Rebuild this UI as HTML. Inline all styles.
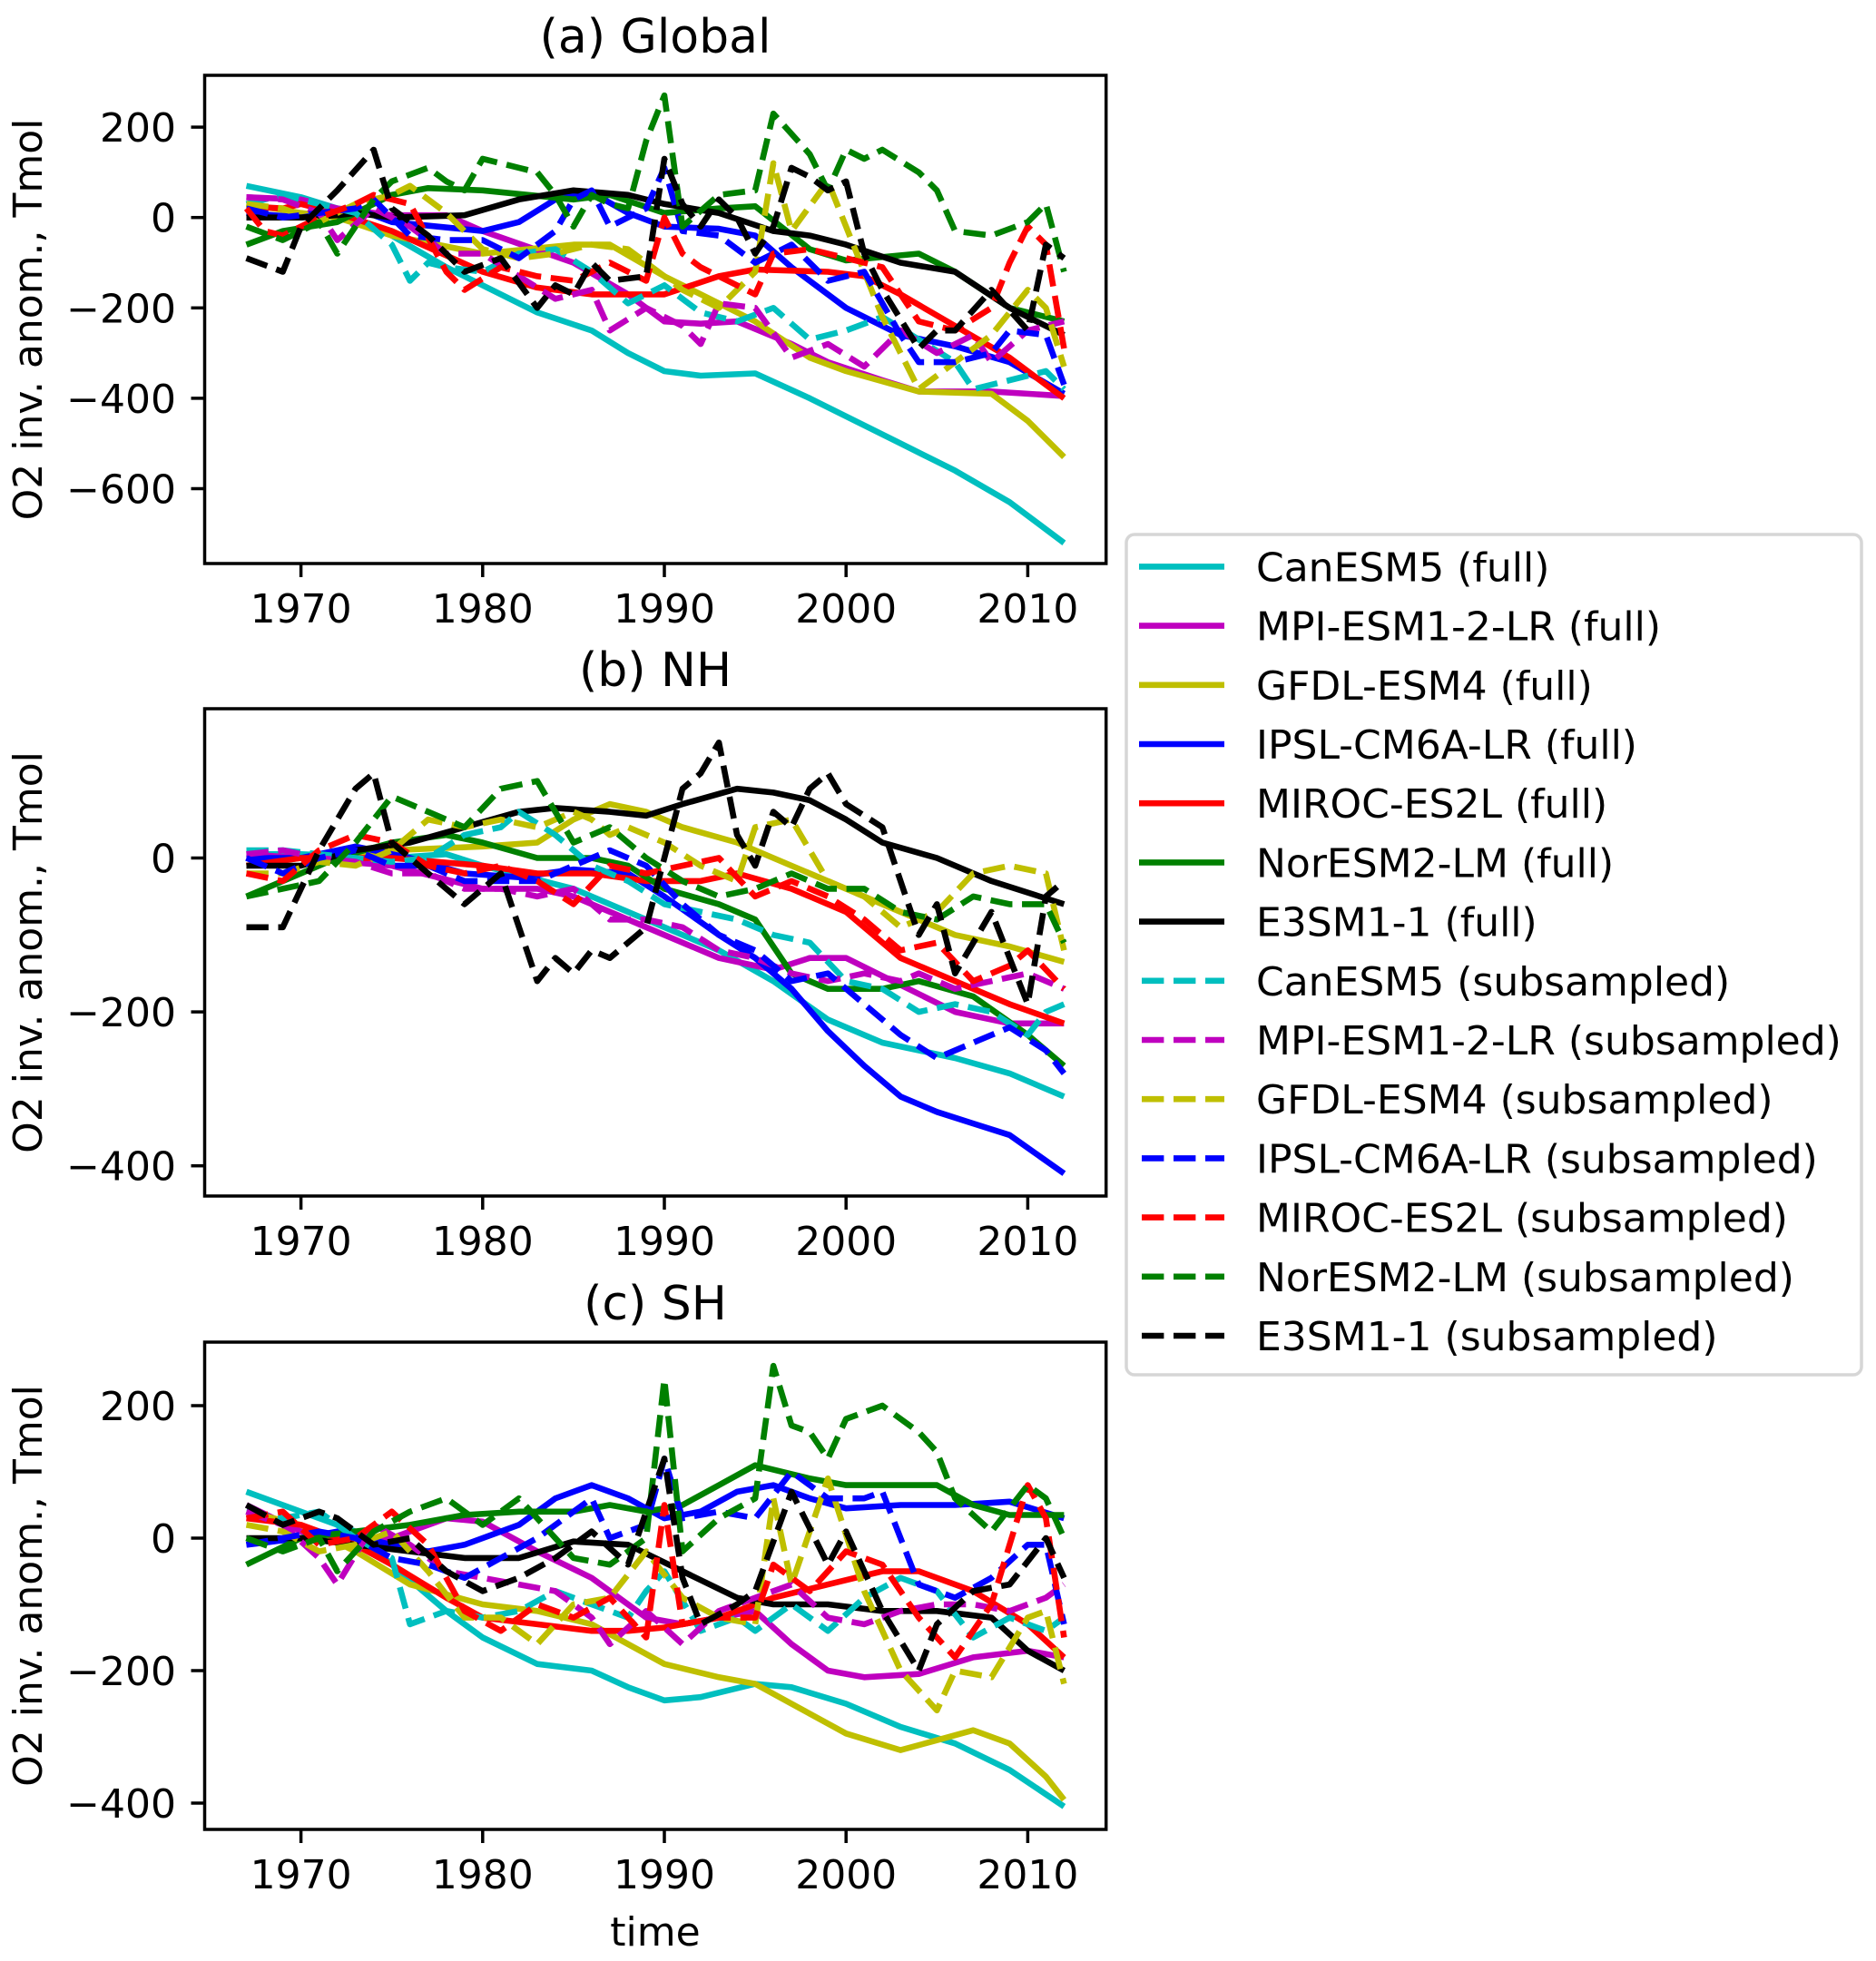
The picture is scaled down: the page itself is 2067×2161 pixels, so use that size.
<!DOCTYPE html>
<html><head><meta charset="utf-8"><style>
html,body{margin:0;padding:0;background:#fff}
svg{display:block;font-family:"DejaVu Sans","Liberation Sans",sans-serif}
</style></head><body>
<svg id="fig" width="2067" height="2161" viewBox="0 0 2067 2161" xmlns="http://www.w3.org/2000/svg"></svg>
<script>
// ---------- Data ([year, value] in Tmol) ----------
const seriesNames = ["CanESM5","MPI-ESM1-2-LR","GFDL-ESM4","IPSL-CM6A-LR","MIROC-ES2L","NorESM2-LM","E3SM1-1"];
const seriesColors = ["#00bfbf","#bf00bf","#bfbf00","#0000ff","#ff0000","#008000","#000000"];
const xTicks = [1970,1980,1990,2000,2010];
const yTicksA = [200,0,-200,-400,-600];
const yTicksB = [0,-200,-400];
const yTicksC = [200,0,-200,-400];

const aFull = [
 [[1967,70],[1970,45],[1972,20],[1975,-40],[1978,-110],[1980,-150],[1983,-210],[1986,-250],[1988,-300],[1990,-340],[1992,-350],[1995,-345],[1998,-400],[2000,-440],[2003,-500],[2006,-560],[2009,-630],[2012,-720]],
 [[1967,45],[1970,40],[1972,20],[1975,5],[1978,5],[1980,-30],[1985,-100],[1988,-170],[1990,-230],[1992,-235],[1994,-230],[1997,-280],[1999,-320],[2002,-360],[2004,-385],[2008,-385],[2012,-395]],
 [[1967,30],[1970,10],[1972,0],[1975,-40],[1980,-80],[1985,-60],[1987,-60],[1990,-130],[1993,-190],[1995,-230],[1998,-310],[2000,-340],[2004,-385],[2008,-390],[2010,-450],[2012,-530]],
 [[1967,10],[1970,0],[1973,20],[1975,-10],[1980,-30],[1982,-10],[1984,40],[1986,55],[1988,10],[1990,-20],[1993,-25],[1995,-40],[1997,-110],[2000,-200],[2003,-260],[2006,-285],[2009,-320],[2012,-390]],
 [[1967,25],[1969,20],[1970,30],[1972,10],[1975,-30],[1980,-120],[1983,-155],[1986,-170],[1990,-170],[1993,-130],[1995,-115],[1999,-120],[2001,-130],[2003,-170],[2006,-240],[2009,-310],[2012,-400]],
 [[1967,-60],[1969,-30],[1972,-10],[1975,50],[1977,65],[1980,60],[1985,40],[1987,50],[1990,10],[1993,20],[1995,25],[1998,-70],[2000,-95],[2004,-80],[2006,-120],[2009,-200],[2012,-230]],
 [[1967,0],[1970,0],[1972,5],[1973,10],[1975,0],[1979,5],[1982,40],[1985,60],[1988,50],[1990,30],[1993,10],[1996,-30],[1998,-40],[2000,-60],[2003,-100],[2006,-120],[2009,-200],[2012,-260]]
];
const aSub = [
 [[1967,30],[1969,50],[1971,30],[1973,10],[1975,-60],[1976,-140],[1977,-100],[1978,-110],[1980,-120],[1982,-80],[1984,-70],[1986,-120],[1988,-190],[1990,-150],[1992,-210],[1994,-230],[1996,-200],[1998,-270],[2000,-250],[2002,-220],[2004,-270],[2006,-320],[2007,-380],[2009,-360],[2011,-340],[2012,-380]],
 [[1967,45],[1969,40],[1971,10],[1972,-50],[1974,20],[1976,-20],[1978,-80],[1980,-80],[1982,-130],[1984,-180],[1986,-160],[1987,-250],[1989,-200],[1991,-240],[1992,-280],[1993,-190],[1995,-200],[1997,-310],[1999,-280],[2001,-330],[2003,-250],[2005,-300],[2007,-260],[2008,-320],[2010,-250],[2012,-230]],
 [[1967,30],[1969,20],[1971,-10],[1973,30],[1975,50],[1976,70],[1978,10],[1980,-70],[1982,-90],[1984,-80],[1986,-60],[1988,-70],[1990,-130],[1991,-160],[1993,-200],[1995,-120],[1996,120],[1997,-30],[1999,80],[2000,-20],[2002,-220],[2004,-380],[2006,-320],[2008,-260],[2010,-160],[2011,-200],[2012,-330]],
 [[1967,20],[1969,0],[1971,10],[1973,20],[1974,40],[1976,-40],[1978,-50],[1980,-50],[1982,-90],[1984,-30],[1985,40],[1986,60],[1987,-20],[1989,20],[1990,110],[1991,-30],[1993,-40],[1995,-100],[1997,-60],[1999,-140],[2001,-120],[2003,-260],[2004,-320],[2006,-320],[2008,-300],[2009,-250],[2011,-260],[2012,-370]],
 [[1967,20],[1968,-30],[1969,-40],[1971,0],[1973,30],[1974,50],[1976,30],[1978,-120],[1979,-160],[1981,-110],[1983,-130],[1985,-140],[1987,-100],[1989,-140],[1990,0],[1991,-80],[1992,-110],[1994,-150],[1995,-170],[1996,-80],[1998,-70],[2000,-90],[2002,-110],[2004,-230],[2006,-250],[2008,-200],[2009,-100],[2010,-20],[2011,-60],[2012,-290]],
 [[1967,-20],[1969,-50],[1971,-10],[1972,-80],[1974,40],[1975,80],[1977,110],[1978,80],[1979,60],[1980,130],[1982,110],[1983,100],[1984,50],[1985,-20],[1986,50],[1987,30],[1988,20],[1989,170],[1990,270],[1991,-20],[1993,50],[1995,60],[1996,230],[1998,140],[1999,60],[2000,150],[2001,130],[2002,150],[2004,100],[2005,60],[2006,-30],[2008,-40],[2010,-10],[2011,30],[2012,-120]],
 [[1967,-90],[1969,-120],[1970,-20],[1972,60],[1974,150],[1975,20],[1977,-40],[1979,-120],[1981,-90],[1983,-200],[1984,-150],[1985,-170],[1986,-100],[1987,-140],[1989,-130],[1990,130],[1991,30],[1992,-20],[1993,40],[1994,0],[1995,-80],[1996,-20],[1997,110],[1998,90],[1999,60],[2000,80],[2001,-80],[2002,-160],[2004,-290],[2005,-250],[2006,-250],[2008,-160],[2010,-250],[2011,-60],[2012,-90]]
];
const bFull = [
 [[1967,5],[1970,5],[1975,0],[1978,5],[1980,-10],[1985,-40],[1988,-70],[1990,-90],[1993,-120],[1996,-160],[1999,-210],[2002,-240],[2006,-260],[2009,-280],[2012,-310]],
 [[1967,5],[1970,0],[1975,-10],[1980,-40],[1983,-40],[1985,-50],[1988,-80],[1990,-100],[1993,-130],[1996,-145],[1998,-130],[2000,-130],[2003,-165],[2006,-200],[2009,-215],[2012,-215]],
 [[1967,-10],[1970,0],[1975,10],[1980,15],[1983,20],[1985,50],[1987,70],[1989,60],[1991,40],[1994,20],[1997,-10],[2000,-40],[2003,-70],[2006,-100],[2009,-115],[2012,-135]],
 [[1967,0],[1970,0],[1973,15],[1976,0],[1979,-20],[1982,-25],[1985,-15],[1988,-20],[1990,-50],[1993,-100],[1995,-130],[1997,-170],[1999,-225],[2001,-270],[2003,-310],[2005,-330],[2007,-345],[2009,-360],[2012,-410]],
 [[1967,-10],[1970,0],[1975,0],[1980,-10],[1983,-20],[1986,-20],[1989,-30],[1992,-30],[1994,-20],[1997,-40],[2000,-70],[2003,-130],[2006,-160],[2009,-190],[2012,-215]],
 [[1967,-50],[1969,-30],[1972,0],[1975,20],[1978,30],[1980,20],[1983,0],[1986,0],[1988,-10],[1990,-40],[1993,-60],[1995,-80],[1997,-150],[1999,-170],[2002,-170],[2004,-160],[2007,-180],[2010,-230],[2012,-270]],
 [[1967,-10],[1970,-10],[1973,10],[1976,20],[1979,40],[1982,60],[1984,65],[1987,60],[1989,55],[1991,70],[1994,90],[1996,85],[1998,75],[2000,50],[2002,20],[2005,0],[2008,-30],[2012,-60]]
];
const bSub = [
 [[1967,10],[1969,10],[1971,5],[1973,0],[1975,-5],[1977,0],[1979,30],[1981,40],[1982,60],[1984,30],[1986,-10],[1988,-30],[1990,-60],[1992,-70],[1994,-80],[1996,-100],[1998,-110],[2000,-160],[2002,-170],[2004,-200],[2006,-190],[2008,-200],[2010,-230],[2011,-200],[2012,-190]],
 [[1967,5],[1969,10],[1971,0],[1973,-5],[1975,-20],[1977,-20],[1979,-40],[1981,-40],[1983,-50],[1985,-40],[1987,-80],[1989,-80],[1991,-90],[1993,-120],[1995,-130],[1997,-150],[1999,-160],[2001,-150],[2003,-160],[2004,-150],[2006,-170],[2008,-160],[2010,-150],[2012,-170]],
 [[1967,-20],[1969,-20],[1971,-5],[1973,-10],[1975,10],[1977,50],[1979,40],[1981,50],[1983,40],[1985,60],[1986,50],[1987,30],[1988,40],[1990,20],[1992,-10],[1994,-30],[1995,40],[1997,50],[1999,-30],[2001,-50],[2003,-90],[2005,-70],[2007,-20],[2009,-10],[2011,-20],[2012,-120]],
 [[1967,0],[1969,-20],[1971,0],[1973,10],[1975,-10],[1977,-10],[1979,-30],[1981,-30],[1983,-30],[1985,-10],[1987,10],[1989,-10],[1991,-60],[1993,-100],[1995,-120],[1997,-160],[1999,-150],[2001,-190],[2003,-230],[2005,-260],[2007,-240],[2009,-220],[2011,-250],[2012,-280]],
 [[1967,-20],[1969,-30],[1971,10],[1973,30],[1975,20],[1977,-10],[1979,-20],[1981,-10],[1983,-30],[1985,-60],[1987,-10],[1989,-20],[1991,-10],[1993,0],[1995,-50],[1997,-30],[1999,-50],[2001,-80],[2003,-120],[2005,-110],[2007,-160],[2009,-140],[2010,-120],[2012,-170]],
 [[1967,-50],[1969,-40],[1971,-30],[1973,20],[1975,80],[1977,60],[1979,40],[1981,90],[1983,100],[1985,20],[1987,40],[1989,0],[1991,-30],[1993,-50],[1995,-40],[1997,-20],[1999,-40],[2001,-40],[2003,-70],[2005,-80],[2007,-50],[2009,-60],[2011,-60],[2012,-110]],
 [[1967,-90],[1969,-90],[1971,10],[1973,90],[1974,110],[1975,20],[1977,-20],[1979,-60],[1981,-20],[1983,-160],[1984,-130],[1985,-150],[1986,-120],[1987,-130],[1989,-90],[1990,0],[1991,90],[1992,110],[1993,150],[1994,30],[1995,-10],[1996,60],[1997,40],[1998,90],[1999,110],[2000,70],[2002,40],[2004,-100],[2005,-60],[2006,-150],[2008,-70],[2010,-190],[2011,-50],[2012,-30]]
];
const cFull = [
 [[1967,70],[1970,40],[1973,10],[1975,-40],[1978,-110],[1980,-150],[1983,-190],[1986,-200],[1988,-225],[1990,-245],[1992,-240],[1995,-220],[1997,-225],[2000,-250],[2003,-285],[2006,-310],[2009,-350],[2012,-405]],
 [[1967,50],[1970,10],[1973,-10],[1975,0],[1978,30],[1980,25],[1983,-20],[1986,-60],[1989,-120],[1991,-130],[1993,-120],[1995,-110],[1997,-160],[1999,-200],[2001,-210],[2004,-205],[2007,-180],[2010,-170],[2012,-180]],
 [[1967,40],[1970,20],[1973,-20],[1976,-70],[1980,-100],[1983,-110],[1986,-130],[1988,-160],[1990,-190],[1993,-210],[1995,-220],[1997,-250],[2000,-295],[2003,-320],[2005,-305],[2007,-290],[2009,-310],[2011,-360],[2012,-395]],
 [[1967,-10],[1970,0],[1972,10],[1975,-10],[1977,-20],[1979,-10],[1982,20],[1984,60],[1986,80],[1988,60],[1990,30],[1992,40],[1994,70],[1996,80],[1998,60],[2000,45],[2003,50],[2006,50],[2009,55],[2012,30]],
 [[1967,30],[1970,20],[1973,-10],[1975,-40],[1978,-90],[1980,-120],[1983,-130],[1986,-140],[1988,-140],[1990,-135],[1993,-120],[1996,-90],[1999,-70],[2002,-50],[2004,-50],[2007,-80],[2010,-130],[2012,-180]],
 [[1967,-40],[1970,0],[1973,10],[1976,20],[1979,35],[1982,40],[1985,40],[1987,50],[1989,40],[1991,50],[1993,80],[1995,110],[1998,90],[2000,80],[2003,80],[2005,80],[2007,50],[2009,35],[2012,35]],
 [[1967,0],[1970,0],[1973,-10],[1976,-20],[1979,-30],[1982,-30],[1985,-5],[1988,-10],[1991,-50],[1994,-90],[1996,-100],[1999,-100],[2002,-110],[2005,-110],[2008,-120],[2010,-170],[2012,-200]]
];
const cSub = [
 [[1967,40],[1969,30],[1971,40],[1973,0],[1975,-30],[1976,-130],[1978,-110],[1980,-120],[1982,-110],[1984,-80],[1986,-100],[1988,-120],[1989,-80],[1990,-50],[1992,-140],[1994,-120],[1995,-140],[1997,-100],[1999,-140],[2001,-90],[2003,-60],[2005,-80],[2007,-150],[2009,-120],[2011,-140],[2012,-120]],
 [[1967,40],[1969,20],[1971,-30],[1972,-70],[1974,20],[1976,-10],[1978,-50],[1980,-60],[1982,-70],[1984,-80],[1986,-120],[1987,-160],[1989,-110],[1991,-160],[1993,-110],[1995,-90],[1997,-70],[1999,-120],[2001,-130],[2003,-110],[2005,-100],[2007,-100],[2009,-110],[2011,-90],[2012,-70]],
 [[1967,20],[1969,10],[1971,-20],[1973,-10],[1975,10],[1977,-50],[1979,-120],[1981,-120],[1983,-160],[1985,-100],[1987,-90],[1989,-20],[1991,-90],[1993,-120],[1995,-130],[1996,60],[1997,-70],[1999,90],[2001,-80],[2003,-200],[2005,-260],[2006,-200],[2008,-210],[2010,-120],[2011,-110],[2012,-220]],
 [[1967,-10],[1969,0],[1971,10],[1973,0],[1975,-30],[1977,-40],[1979,-60],[1981,-30],[1983,0],[1985,40],[1986,60],[1987,0],[1989,20],[1990,120],[1991,30],[1993,40],[1995,30],[1997,100],[1999,60],[2001,60],[2002,70],[2004,-70],[2006,-90],[2008,-60],[2010,-10],[2011,-10],[2012,-130]],
 [[1967,30],[1969,40],[1971,-10],[1973,0],[1975,40],[1977,-10],[1979,-110],[1981,-140],[1983,-100],[1985,-120],[1987,-90],[1989,-150],[1990,50],[1991,-130],[1993,-120],[1995,-120],[1996,-40],[1998,-80],[2000,-20],[2002,-40],[2004,-120],[2006,-180],[2008,-100],[2010,80],[2011,30],[2012,-150]],
 [[1967,0],[1969,-20],[1971,0],[1972,-50],[1974,10],[1976,40],[1978,60],[1980,20],[1982,60],[1984,0],[1985,-30],[1987,-40],[1989,0],[1990,240],[1991,-20],[1993,30],[1995,60],[1996,260],[1997,170],[1998,160],[1999,120],[2000,180],[2001,190],[2002,200],[2004,160],[2005,130],[2006,60],[2008,10],[2010,80],[2011,60],[2012,0]],
 [[1967,50],[1969,20],[1971,40],[1972,30],[1974,-10],[1976,0],[1978,-50],[1980,-80],[1982,-60],[1984,-30],[1986,10],[1988,-40],[1990,120],[1991,-60],[1992,-130],[1994,-100],[1995,-80],[1997,70],[1999,-40],[2000,10],[2002,-110],[2004,-200],[2005,-130],[2007,-80],[2009,-70],[2011,0],[2012,-60]]
];

// ---------- Rendering ----------
const NS = "http://www.w3.org/2000/svg";
const svg = document.getElementById("fig");
function mk(tag, attrs, parent) {
  const e = document.createElementNS(NS, tag);
  for (const k in attrs) e.setAttribute(k, attrs[k]);
  (parent || svg).appendChild(e);
  return e;
}
const AX_L = 225.5, AX_R = 1218.7;
function xScale(year) { return 331.6 + (year - 1970) * 20.02; }

const panels = [
  {key:"a", title:"(a) Global", top:83, bottom:621, zeroY:239.7, k:0.498, ticks:yTicksA, full:aFull, sub:aSub},
  {key:"b", title:"(b) NH", top:781, bottom:1318, zeroY:945.5, k:0.848, ticks:yTicksB, full:bFull, sub:bSub},
  {key:"c", title:"(c) SH", top:1479, bottom:2016, zeroY:1695, k:0.730, ticks:yTicksC, full:cFull, sub:cSub}
];

panels.forEach(p => {
  const yScale = v => p.zeroY - v * p.k;
  const g = mk("g", {});
  
  
  const clipId = "clip-" + p.key;
  const cp = mk("clipPath", {id: clipId}, g);
  mk("rect", {x: AX_L, y: p.top, width: AX_R - AX_L, height: p.bottom - p.top}, cp);

  const title = mk("text", {x: 722, y: p.top - 25, "text-anchor": "middle", "font-size": 52, fill: "#000"}, g);
  title.textContent = p.title;
  
  

  const ylab = mk("text", {transform: `translate(46,${(p.top + p.bottom) / 2}) rotate(-90)`, "text-anchor": "middle", "font-size": 44, fill: "#000"}, g);
  ylab.textContent = "O2 inv. anom., Tmol";
  
  

  const lines = mk("g", {"clip-path": `url(#${clipId})`, fill: "none", "stroke-width": 6.6, "stroke-linejoin": "round"}, g);
  
  
  const draw = (arr, dashed) => arr.forEach((pts, i) => {
    const d = pts.map((pt, j) => (j ? "L" : "M") + xScale(pt[0]).toFixed(1) + "," + yScale(pt[1]).toFixed(1)).join("");
    const path = mk("path", {d: d, stroke: seriesColors[i]}, lines);
    if (dashed) path.setAttribute("stroke-dasharray", "24.4,10.6");
    
    
  });
  draw(p.full, false);
  draw(p.sub, true);

  const frame = mk("rect", {x: AX_L, y: p.top, width: AX_R - AX_L, height: p.bottom - p.top, fill: "none", stroke: "#000", "stroke-width": 3.5}, g);
  
  

  xTicks.forEach(t => {
    const x = xScale(t);
    const tk = mk("line", {x1: x, x2: x, y1: p.bottom, y2: p.bottom + 15, stroke: "#000", "stroke-width": 3.5}, g);
    
    
    const lb = mk("text", {x: x, y: p.bottom + 65, "text-anchor": "middle", "font-size": 44, fill: "#000"}, g);
    lb.textContent = t;
    
    
  });
  p.ticks.forEach(t => {
    const y = yScale(t);
    const tk = mk("line", {x1: AX_L - 15, x2: AX_L, y1: y, y2: y, stroke: "#000", "stroke-width": 3.5}, g);
    
    
    const lb = mk("text", {x: 194, y: y + 16, "text-anchor": "end", "font-size": 44, fill: "#000"}, g);
    lb.textContent = t < 0 ? "\u2212" + Math.abs(t) : String(t);
    
    
  });
});

const xt = mk("text", {x: 722, y: 2144, "text-anchor": "middle", "font-size": 44, fill: "#000"});
xt.textContent = "time";



// Legend
const lg = mk("g", {});


const box = mk("rect", {x: 1241, y: 589, width: 810, height: 926, rx: 9, fill: "#fff", stroke: "#d6d6d6", "stroke-width": 3.5}, lg);


for (let i = 0; i < 14; i++) {
  const si = i % 7, dashed = i >= 7;
  const y = 624.4 + 65.2 * i;
  const ln = mk("line", {x1: dashed ? 1258 : 1255, x2: 1349, y1: y, y2: y, stroke: seriesColors[si], "stroke-width": 6.6}, lg);
  if (dashed) ln.setAttribute("stroke-dasharray", "24.4,10.6");
  
  
  const tx = mk("text", {x: 1384, y: y + 16, "font-size": 44, fill: "#000"}, lg);
  tx.textContent = seriesNames[si] + (dashed ? " (subsampled)" : " (full)");
  
  
}
</script>
</body></html>
